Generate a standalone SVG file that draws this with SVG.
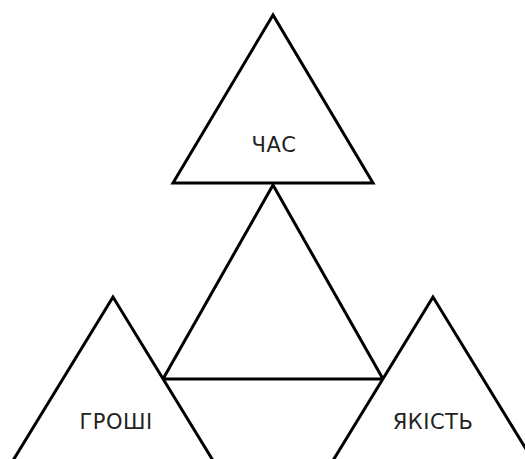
<svg xmlns="http://www.w3.org/2000/svg" width="525" height="459" viewBox="0 0 525 459">
<style>
.tri{fill:#fff;stroke:#000;stroke-width:3;stroke-linejoin:miter}
.lbl{font-family:"DejaVu Sans",Verdana,sans-serif;font-size:21px;letter-spacing:0.5px;fill:#222;text-anchor:middle}
</style>
<rect width="525" height="459" fill="#fff"/>
<g id="connectors">
<polygon class="tri" points="273,185 163,379 383,379"/>
</g>
<g id="node-chas">
<polygon class="tri" points="273,15 173,183 373,183"/>
<text class="lbl" x="274" y="152">ЧАС</text>
</g>
<g id="node-groshi">
<polygon class="tri" points="113,297 13,460.5 213,460.5"/>
<text class="lbl" x="116" y="429">ГРОШІ</text>
</g>
<g id="node-yakist">
<polygon class="tri" points="433,297 333,460.5 533,460.5"/>
<text class="lbl" x="433" y="429">ЯКІСТЬ</text>
</g>
</svg>
